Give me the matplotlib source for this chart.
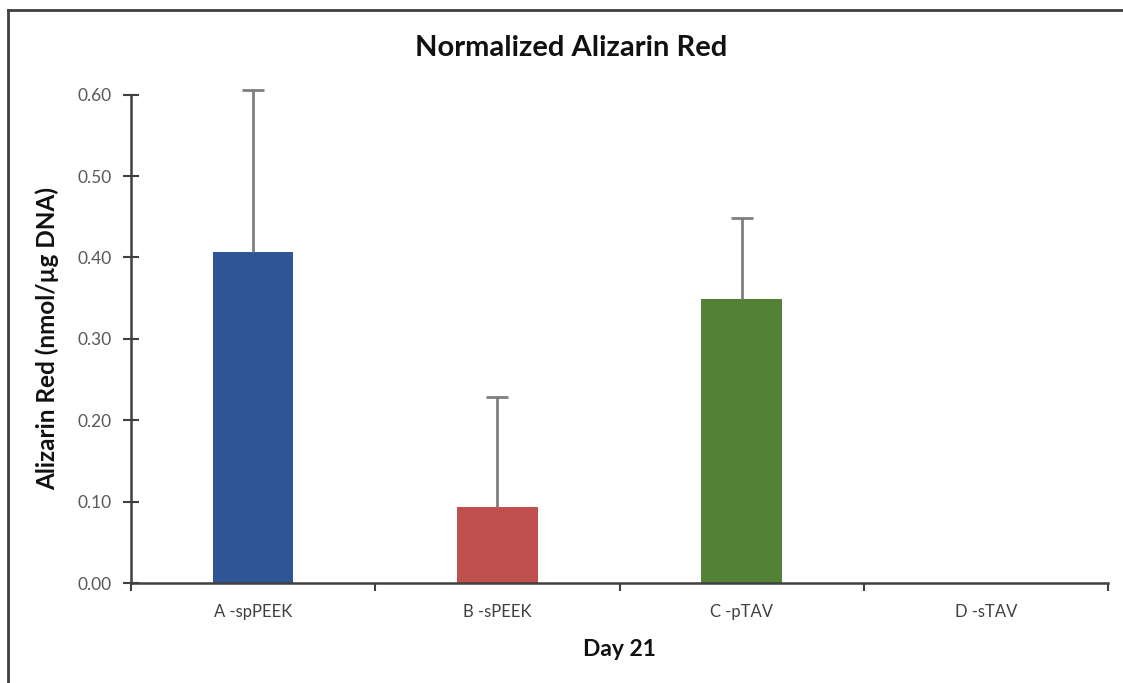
import matplotlib
matplotlib.use("Agg")
import matplotlib.pyplot as plt
from matplotlib.lines import Line2D

# values
groups = ["A -spPEEK", "B -sPEEK", "C -pTAV", "D -sTAV"]
means = [0.407, 0.094, 0.349, 0.0]
errors = [0.199, 0.135, 0.100, 0.0]
colors = ["#2F5597", "#C0504D", "#538135", "#8064A2"]
yticks = [0.0, 0.1, 0.2, 0.3, 0.4, 0.5, 0.6]

plt.rcParams["font.family"] = ["Lato", "DejaVu Sans"]

fig = plt.figure(figsize=(11.23, 6.83), dpi=100)
ax = fig.add_axes([0.1167, 0.1464, 0.8699, 0.7149])

x = list(range(len(groups)))
ax.bar(x, means, width=0.33, color=colors, zorder=2)
# upper-only error bars with a single cap
for xi, m, e in zip(x, means, errors):
    if e > 0:
        ax.vlines(xi, m, m + e, color="#7F7F7F", linewidth=2, zorder=3,
                  clip_on=False)
        ax.plot([xi], [m + e], marker="_", markersize=16, markeredgewidth=2,
                color="#7F7F7F", zorder=3, clip_on=False)

ax.set_xlim(-0.5, 3.5)
ax.set_ylim(0, 0.6)
ax.set_yticks(yticks)
ax.set_yticklabels([f"{v:.2f}" for v in yticks])
ax.set_xticks([i - 0.5 for i in range(len(groups) + 1)])
ax.set_xticklabels([])
ax.set_xticks(x, minor=True)
ax.set_xticklabels(groups, minor=True)
ax.tick_params(axis="x", which="minor", length=0, pad=15, labelsize=12,
               labelcolor="#404040")
ax.tick_params(axis="x", which="major", direction="out", length=6, width=1.5,
               color="#404040")
ax.tick_params(axis="y", direction="inout", length=12, width=1.5,
               color="#404040", labelsize=12.5, labelcolor="#595959", pad=8)

for side in ["top", "right"]:
    ax.spines[side].set_visible(False)
for side in ["left", "bottom"]:
    ax.spines[side].set_color("#404040")
    ax.spines[side].set_linewidth(1.8)

fig.text(571 / 1123, 1 - 48 / 683, "Normalized Alizarin Red", fontsize=21,
         fontweight="bold", color="#111111", ha="center", va="center")
ax.set_xlabel("Day 21", fontsize=16.5, fontweight="bold", color="#111111",
              labelpad=14)
ax.set_ylabel("Alizarin Red (nmol/µg DNA)", fontsize=17.5, fontweight="bold",
              color="#111111", labelpad=13)

# frame lines at the top and left edges of the picture
fig.lines.append(Line2D([8 / 1123, 1], [1 - 10 / 683, 1 - 10 / 683],
                        transform=fig.transFigure, color="#404040", linewidth=2))
fig.lines.append(Line2D([8 / 1123, 8 / 1123], [0, 1 - 10 / 683],
                        transform=fig.transFigure, color="#404040", linewidth=2))

fig.savefig("out.png", dpi=100)
